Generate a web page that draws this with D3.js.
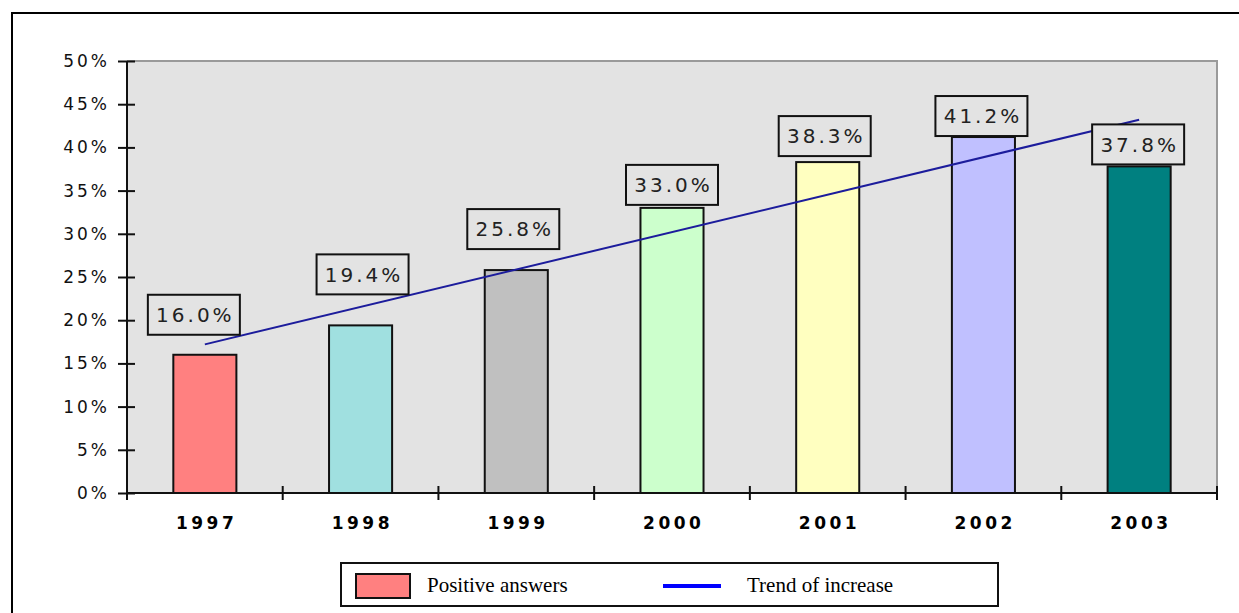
<!DOCTYPE html>
<html>
<head>
<meta charset="utf-8">
<script src="https://cdn.jsdelivr.net/npm/d3@7"></script>
<style>
  html, body { margin: 0; padding: 0; background: #fff; }
  svg { display: block; }
</style>
</head>
<body>
<script>
// ---- data ----
const years = ["1997", "1998", "1999", "2000", "2001", "2002", "2003"];
const positiveAnswers = [16.0, 19.4, 25.8, 33.0, 38.3, 41.2, 37.8];
const barColors = ["#ff8080", "#a0e0e0", "#c0c0c0", "#ccffcc", "#ffffc0", "#c0c0ff", "#008080"];
const trendEnds = [17.2, 43.2]; // trend value at first and last category
const yTicks = [0, 5, 10, 15, 20, 25, 30, 35, 40, 45, 50];
const legendLabels = ["Positive answers", "Trend of increase"];

// ---- layout ----
const W = 1239, H = 613;
const plot = { left: 127, right: 1217, top: 61, bottom: 493 };
const labelRaise = [19, 30, 20, 2, 5, 0, 1];
const labelShift = [-11, 2, -3, 0, -3, -2, -1];

const svg = d3.select("body").append("svg").attr("width", W).attr("height", H);

// outer frame
svg.append("path").attr("d", `M12,${H + 5} L12,13 L${W + 5},13`)
  .attr("fill", "none").attr("stroke", "#000").attr("stroke-width", 2);

const x = d3.scaleBand().domain(years).range([plot.left, plot.right]).paddingInner(0.595).paddingOuter(0.2975);
const y = d3.scaleLinear().domain([0, 50]).range([plot.bottom, plot.top]);

// plot background
svg.append("rect").attr("x", plot.left).attr("y", plot.top)
  .attr("width", plot.right - plot.left).attr("height", plot.bottom - plot.top)
  .attr("fill", "#e3e3e3");
svg.append("path").attr("d", `M${plot.left},${plot.top} L${plot.right},${plot.top} L${plot.right},${plot.bottom}`)
  .attr("fill", "none").attr("stroke", "#9a9a9a").attr("stroke-width", 2);

// bars
svg.append("g").selectAll("rect").data(positiveAnswers).join("rect")
  .attr("x", (d, i) => x(years[i]))
  .attr("y", d => y(d))
  .attr("width", x.bandwidth())
  .attr("height", d => plot.bottom - y(d))
  .attr("fill", (d, i) => barColors[i])
  .attr("stroke", "#111").attr("stroke-width", 2);

// trend line
const cx = i => x(years[i]) + x.bandwidth() / 2;
svg.append("line")
  .attr("x1", cx(0)).attr("y1", y(trendEnds[0]))
  .attr("x2", cx(years.length - 1)).attr("y2", y(trendEnds[1]))
  .attr("stroke", "#1c1c9c").attr("stroke-width", 2);

// y axis
const yAxis = svg.append("g").attr("transform", `translate(${plot.left},0)`)
  .call(d3.axisLeft(y).tickValues(yTicks).tickFormat(d => d + "%").tickSize(9).tickPadding(8));
yAxis.select(".domain").attr("stroke", "#111").attr("stroke-width", 2).attr("d", `M0,${plot.top}V${plot.bottom}`);
yAxis.selectAll(".tick line").attr("stroke", "#111").attr("stroke-width", 2).attr("x1", 8).attr("x2", -9);
yAxis.selectAll(".tick text")
  .attr("font-family", "'DejaVu Sans', Verdana, sans-serif").attr("font-size", 17)
  .attr("letter-spacing", 3).attr("fill", "#111");

// x axis
const xAxis = svg.append("g").attr("transform", `translate(0,${plot.bottom})`)
  .call(d3.axisBottom(x).tickSize(0).tickPadding(24));
xAxis.select(".domain").attr("stroke", "#111").attr("stroke-width", 2).attr("d", `M${plot.left},0H${plot.right}`);
xAxis.selectAll(".tick text")
  .attr("font-family", "'DejaVu Sans', Verdana, sans-serif").attr("font-size", 17).attr("font-weight", "bold")
  .attr("letter-spacing", 3.5).attr("dx", 1.75).attr("fill", "#000");
// category boundary ticks
const bounds = d3.range(years.length + 1).map(i => plot.left + i * (plot.right - plot.left) / years.length);
svg.append("g").selectAll("line").data(bounds).join("line")
  .attr("x1", d => d).attr("x2", d => d)
  .attr("y1", plot.bottom - 7).attr("y2", plot.bottom + 7)
  .attr("stroke", "#111").attr("stroke-width", 2);

// data labels
const lab = svg.append("g").selectAll("g").data(positiveAnswers).join("g")
  .attr("transform", (d, i) => `translate(${cx(i) + labelShift[i]},${y(d) - labelRaise[i] - 21})`);
lab.append("rect").attr("x", -46).attr("y", -20).attr("width", 92).attr("height", 40)
  .attr("fill", "#e3e3e3").attr("stroke", "#111").attr("stroke-width", 2);
lab.append("text").text(d => d.toFixed(1) + "%")
  .attr("text-anchor", "middle").attr("dy", "0.36em").attr("dx", 1.5)
  .attr("font-family", "'DejaVu Sans', Verdana, sans-serif").attr("font-size", 20)
  .attr("letter-spacing", 3).attr("fill", "#222");

// legend
const lg = svg.append("g");
lg.append("rect").attr("x", 341).attr("y", 563).attr("width", 657).attr("height", 43)
  .attr("fill", "#fff").attr("stroke", "#111").attr("stroke-width", 2);
lg.append("rect").attr("x", 356).attr("y", 574).attr("width", 54).attr("height", 24)
  .attr("fill", barColors[0]).attr("stroke", "#111").attr("stroke-width", 2);
lg.append("text").attr("x", 427).attr("y", 592).text(legendLabels[0])
  .attr("font-family", "'Liberation Serif', 'Times New Roman', serif").attr("font-size", 21).attr("fill", "#000");
lg.append("line").attr("x1", 663).attr("x2", 721).attr("y1", 586).attr("y2", 586)
  .attr("stroke", "#0000ff").attr("stroke-width", 4);
lg.append("text").attr("x", 747).attr("y", 592).text(legendLabels[1])
  .attr("font-family", "'Liberation Serif', 'Times New Roman', serif").attr("font-size", 21).attr("fill", "#000");
</script>
</body>
</html>
